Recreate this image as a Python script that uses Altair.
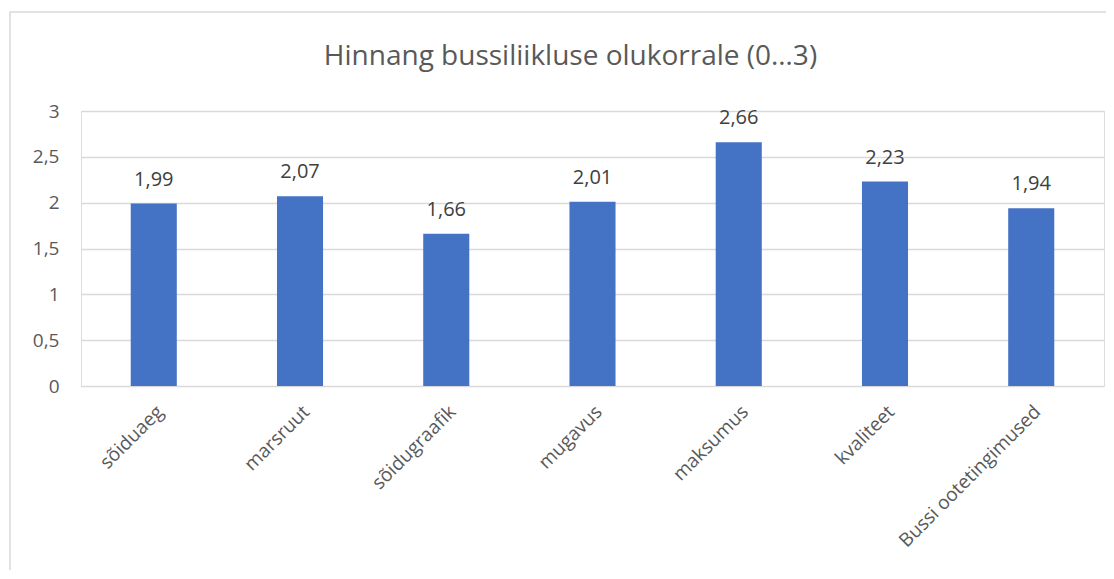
import altair as alt
import pandas as pd

categories = ["sõiduaeg", "marsruut", "sõidugraafik", "mugavus", "maksumus", "kvaliteet", "Bussi ootetingimused"]
values = [1.99, 2.07, 1.66, 2.01, 2.66, 2.23, 1.94]

df = pd.DataFrame({"cat": categories, "v": values})

FONT = "Open Sans"
GREY = "#595959"

x = alt.X("cat:N", sort=categories, title=None,
          scale=alt.Scale(paddingInner=0.685, paddingOuter=0.34),
          axis=alt.Axis(labelAngle=-45, labelFontSize=19, labelColor=GREY, labelFont=FONT,
                        domain=False, ticks=False, labelPadding=16, labelLimit=300))
y = alt.Y("v:Q", title=None,
          scale=alt.Scale(domain=[0, 3]),
          axis=alt.Axis(values=[0, 0.5, 1, 1.5, 2, 2.5, 3],
                        labelExpr="replace(toString(datum.value), '.', ',')",
                        labelFontSize=19, labelColor=GREY, labelFont=FONT,
                        domain=False, ticks=False, labelPadding=22,
                        grid=True, gridColor="#d9d9d9", gridWidth=1.3))

border = alt.Chart(df).mark_rect(fill=None, stroke="#d9d9d9", strokeWidth=1.5).encode(
    x=alt.value(-71), x2=alt.value(1120), y=alt.value(-99), y2=alt.value(600)
).transform_filter(alt.datum.cat == categories[0])

bars = alt.Chart(df).mark_bar(color="#4472C4").encode(x=x, y=y)

labels = alt.Chart(df).transform_calculate(
    lab="replace(format(datum.v, '.2f'), '.', ',')"
).mark_text(fontSize=20, color="#404040", font=FONT, baseline="middle", dy=-24).encode(
    x=alt.X("cat:N", sort=categories), y="v:Q", text="lab:N")

chart = alt.layer(border, bars, labels).properties(
    width=1023, height=275,
    autosize=alt.AutoSizeParams(type="none"),
    padding={"left": 73, "top": 103, "right": 2, "bottom": 184},
    title=alt.TitleParams("Hinnang bussiliikluse olukorrale (0…3)", fontSize=28, font=FONT,
                          color=GREY, fontWeight="normal", offset=-60, dx=-22,
                          anchor="middle", frame="group")
).configure_view(stroke=None).configure(background="white")

chart.save("out.html", embed_options={"renderer": "svg", "actions": False})
